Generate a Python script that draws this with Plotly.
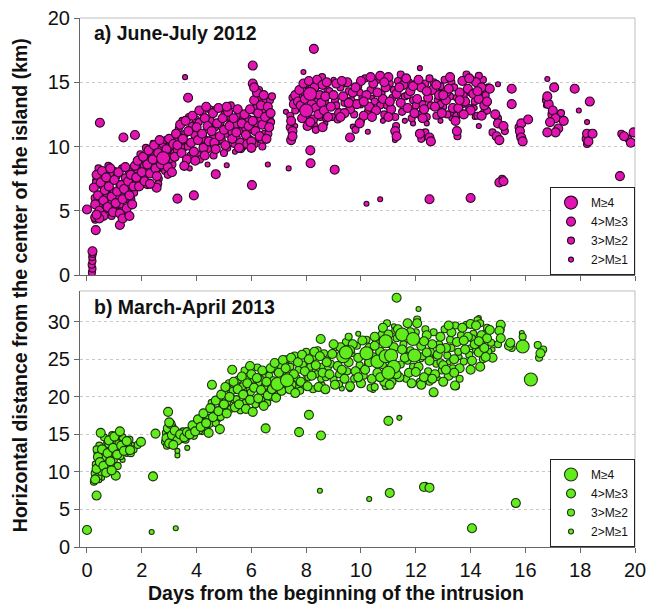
import plotly.graph_objects as go

# ---------------- DATA (days, km) ----------------
# Panel a) June-July 2012
A_M4 = [(2.78, 9.1), (8.14, 14.1), (8.0, 12.8)]
A_M3 = [
    (0.0, 5.1), (0.2, 1.85), (0.32, 3.5), (0.3, 4.5), (0.47, 11.85), (1.33, 10.7), (1.75, 10.9), (1.2, 3.9),
    (3.3, 5.95), (3.9, 6.2), (3.69, 13.8), (4.7, 7.85), (6.02, 7.0), (6.05, 16.3), (6.05, 14.9), (8.16, 8.7),
    (8.15, 9.7), (8.28, 17.6), (9.04, 8.2), (12.5, 5.9), (14.0, 6.0), (15.05, 7.2), (15.2, 7.3), (19.45, 7.7),
    (15.5, 14.5), (17.05, 14.6), (17.8, 14.5), (18.35, 13.5), (9.6, 10.7), (2.54, 6.8),
    # cloud 0.2-1.8
    (0.25, 6.8), (0.3, 5.5), (0.35, 7.8), (0.4, 6.2), (0.45, 5.0), (0.5, 7.2), (0.55, 8.1), (0.6, 5.8),
    (0.65, 6.6), (0.7, 7.6), (0.75, 5.3), (0.8, 6.9), (0.85, 8.3), (0.9, 6.1), (0.95, 4.9), (1.0, 7.4),
    (1.05, 5.6), (1.1, 6.5), (1.15, 8.0), (1.2, 4.8), (1.25, 7.0), (1.3, 5.9), (1.35, 6.7), (1.4, 8.4),
    (1.45, 5.2), (1.5, 7.3), (1.55, 6.2), (1.6, 7.8), (1.65, 5.5), (1.7, 6.9), (1.75, 8.5), (0.6, 4.6),
    (1.3, 4.4), (0.45, 4.4), (0.35, 4.7), (1.55, 4.6),
    # cloud 1.8-3.2
    (1.8, 7.6), (1.85, 8.9), (1.9, 6.9), (2.0, 8.0), (2.05, 9.2), (2.1, 7.3), (2.2, 8.6), (2.25, 9.7),
    (2.3, 7.9), (2.4, 9.0), (2.45, 10.1), (2.5, 8.3), (2.6, 9.5), (2.65, 10.5), (2.7, 8.6), (2.9, 9.8),
    (2.95, 8.4), (3.0, 10.6), (3.05, 9.1), (3.1, 8.0), (3.15, 10.2), (2.3, 7.1), (2.55, 7.7),
    # cloud 3.2-4.5
    (3.2, 9.2), (3.25, 11.0), (3.3, 10.1), (3.4, 11.7), (3.45, 9.5), (3.5, 10.6), (3.6, 12.0), (3.65, 9.0),
    (3.7, 11.2), (3.8, 10.3), (3.85, 12.4), (3.9, 9.6), (4.0, 11.5), (4.05, 10.5), (4.1, 12.8), (4.2, 11.0),
    (4.25, 9.9), (4.3, 12.2), (4.35, 13.1), (4.4, 11.6), (4.45, 10.4), (3.55, 8.5), (3.95, 8.9), (4.3, 9.3),
    # cloud 4.5-6.0
    (4.55, 11.2), (4.6, 12.6), (4.65, 10.3), (4.75, 11.8), (4.8, 13.0), (4.85, 10.8), (4.95, 12.2), (5.0, 11.3),
    (5.05, 10.1), (5.15, 12.7), (5.2, 11.6), (5.3, 10.6), (5.35, 12.2), (5.45, 11.1), (5.5, 12.9), (5.6, 10.3),
    (5.65, 11.8), (5.75, 12.5), (5.8, 10.9), (5.9, 11.6), (5.95, 12.9), (5.1, 13.1), (4.7, 9.8), (5.55, 9.9),
    (5.85, 10.2),
    # cloud 6.0-6.75
    (6.0, 10.4), (6.05, 12.0), (6.1, 13.6), (6.15, 11.2), (6.2, 14.2), (6.25, 12.6), (6.3, 10.8), (6.35, 13.2),
    (6.4, 11.7), (6.45, 14.0), (6.5, 12.3), (6.55, 10.6), (6.6, 13.1), (6.65, 11.5), (6.7, 12.6), (6.1, 14.6),
    (6.0, 9.9),
    # 7.2-8.8
    (7.45, 10.5), (7.5, 11.2), (7.45, 12.0), (7.55, 13.3), (7.6, 14.0), (7.7, 13.5), (7.5, 10.8),
    (7.75, 14.4), (7.8, 13.2), (7.85, 12.2), (7.9, 14.9), (7.95, 13.7), (8.05, 11.6), (8.1, 15.1), (8.2, 13.3),
    (8.25, 12.1), (8.3, 14.6), (8.35, 13.0), (8.4, 15.2), (8.45, 12.5), (8.5, 14.0), (8.55, 13.4), (8.6, 14.8),
    (8.65, 12.8), (8.7, 13.9), (8.75, 15.0), (8.8, 12.3), (8.6, 11.5), (8.15, 11.9),
    # 8.8-14.5
    (8.9, 13.1), (9.1, 14.9), (9.2, 12.6), (9.35, 13.9), (9.5, 15.0), (9.6, 12.9), (9.7, 14.2), (9.85, 13.3),
    (10.0, 15.1), (10.1, 12.4), (10.2, 14.0), (10.3, 13.1), (10.45, 14.9), (10.55, 12.8), (10.7, 15.5), (10.8, 13.7),
    (10.9, 14.6), (11.0, 15.4), (11.1, 12.9), (11.25, 11.2), (11.3, 14.1), (11.45, 13.4), (11.55, 14.8), (11.7, 13.0),
    (11.8, 14.3), (11.95, 12.6), (12.05, 13.7), (12.2, 14.6), (12.3, 12.9), (12.45, 13.8), (12.6, 14.4), (12.7, 13.1),
    (12.85, 14.0), (12.95, 12.6), (13.1, 13.6), (13.2, 14.5), (13.35, 13.0), (13.45, 12.0), (13.5, 11.2), (13.55, 13.0),
    (13.6, 14.2), (13.7, 15.1), (13.8, 13.5), (13.9, 14.5), (14.0, 12.8), (14.1, 14.1), (14.2, 15.0), (14.3, 13.7),
    (14.4, 14.6), (14.5, 13.2), (12.15, 11.0), (12.5, 10.7), (12.55, 10.4), (11.3, 10.8), (9.95, 11.8), (9.4, 12.6),
    (9.0, 14.0), (9.3, 15.1), (9.55, 13.4), (9.8, 14.6), (10.1, 13.5), (10.35, 15.4), (10.6, 14.2), (10.85, 15.0),
    (11.05, 13.5), (11.4, 14.6), (11.65, 15.3), (11.9, 14.7), (12.1, 15.2), (12.4, 14.3), (12.75, 14.8), (13.0, 14.0),
    (13.25, 15.4), (13.6, 13.6), (13.95, 15.3), (14.25, 14.3), (12.25, 12.2), (11.0, 12.3), (10.4, 12.3), (9.25, 12.3),
    (14.4, 12.4), (13.75, 12.5),
    # tail
    (15.5, 13.3), (14.9, 12.5), (15.0, 11.8), (15.2, 11.6), (14.95, 10.8), (15.05, 10.5), (15.85, 11.8), (16.1, 12.1),
    (15.8, 11.2), (15.85, 10.7), (15.9, 10.4), (16.85, 13.3), (16.8, 13.9), (17.0, 12.8), (17.1, 12.2), (16.9, 11.9),
    (17.2, 11.4), (17.1, 11.1), (16.8, 11.1), (17.4, 12.0), (18.25, 11.0), (18.3, 10.4), (18.45, 11.0), (19.6, 10.8),
    (19.85, 10.3), (19.95, 11.1), (14.7, 14.5), (14.6, 13.5),
]
A_M2 = [
    (0.18, 0.2), (0.2, 0.5), (0.17, 0.8), (0.2, 1.1), (0.19, 1.4), (0.21, 1.65), (0.3, 4.3),
    (0.28, 6.0), (0.33, 7.2), (0.42, 8.3), (0.5, 5.6), (0.58, 6.9), (0.62, 7.9), (0.68, 5.1), (0.72, 6.3),
    (0.78, 8.5), (0.82, 7.2), (0.88, 5.6), (0.92, 7.9), (0.98, 6.5), (1.02, 5.2), (1.08, 7.7), (1.12, 6.0),
    (1.18, 7.1), (1.22, 5.5), (1.28, 8.3), (1.32, 6.3), (1.38, 7.6), (1.42, 5.9), (1.48, 6.6), (1.52, 8.1),
    (1.58, 7.0), (1.62, 5.9), (1.68, 7.4), (1.72, 6.4), (1.78, 7.9), (0.5, 4.7), (0.9, 4.6), (1.15, 4.9),
    (1.82, 8.2), (1.88, 7.2), (1.95, 9.4), (2.02, 7.6), (2.08, 8.5), (2.15, 9.9), (2.18, 7.8), (2.28, 8.9),
    (2.35, 9.4), (2.42, 8.1), (2.48, 9.9), (2.55, 8.9), (2.62, 7.5), (2.68, 9.8), (2.75, 10.2), (2.85, 8.1),
    (2.88, 10.5), (2.98, 9.5), (3.08, 10.0), (3.12, 8.6), (3.18, 9.5), (2.2, 7.0), (2.6, 7.1), (2.95, 7.8),
    (3.22, 10.4), (3.28, 9.7), (3.35, 11.4), (3.42, 10.2), (3.48, 12.0), (3.52, 9.9), (3.58, 11.0), (3.68, 10.0),
    (3.72, 12.3), (3.78, 9.3), (3.82, 11.6), (3.92, 10.9), (3.98, 12.1), (4.02, 9.4), (4.08, 11.9), (4.15, 10.8),
    (4.22, 12.6), (4.28, 10.6), (4.38, 12.0), (4.42, 9.8), (4.48, 12.9), (4.12, 9.0), (3.62, 8.8),
    (4.52, 12.0), (4.58, 10.7), (4.68, 11.5), (4.72, 12.9), (4.78, 10.4), (4.88, 11.9), (4.92, 10.5), (5.02, 12.5),
    (5.08, 11.0), (5.12, 9.9), (5.22, 12.3), (5.28, 11.1), (5.38, 10.2), (5.42, 11.7), (5.52, 12.4), (5.58, 11.2),
    (5.62, 9.8), (5.7, 12.2), (5.78, 11.4), (5.88, 12.2), (5.92, 10.6), (5.25, 13.2), (4.62, 9.3), (5.0, 9.5),
    (6.02, 11.3), (6.08, 12.8), (6.12, 10.2), (6.18, 13.0), (6.22, 11.8), (6.28, 14.4), (6.32, 12.2), (6.38, 10.5),
    (6.42, 12.9), (6.48, 11.0), (6.52, 13.6), (6.58, 12.0), (6.62, 11.0), (6.68, 13.6), (6.72, 11.9), (6.75, 13.9),
    (6.4, 10.0),
    (7.4, 11.5), (7.42, 12.4), (7.5, 13.8), (7.6, 12.8),
    (7.78, 13.8), (7.88, 12.9), (7.98, 14.8), (8.02, 12.2), (8.22, 14.2), (8.28, 11.7), (8.38, 14.0), (8.42, 13.5),
    (8.52, 12.3), (8.58, 15.4), (8.68, 13.5), (8.72, 12.2), (8.78, 14.4), (8.35, 11.3),
    (8.85, 14.3), (8.95, 12.3), (9.05, 13.6), (9.15, 12.1), (9.25, 14.6), (9.4, 13.4), (9.55, 14.3), (9.65, 13.6),
    (9.75, 12.5), (9.9, 14.7), (10.05, 13.8), (10.15, 15.3), (10.25, 12.7), (10.35, 14.4), (10.5, 13.5), (10.6, 15.2),
    (10.75, 14.1), (10.85, 12.5), (10.95, 13.2), (11.05, 14.9), (11.15, 13.8), (11.25, 12.3), (11.35, 15.1), (11.5, 12.7),
    (11.6, 13.9), (11.75, 15.0), (11.85, 12.2), (11.9, 13.6), (12.0, 14.9), (12.1, 12.5), (12.25, 13.3), (12.35, 14.9),
    (12.4, 12.3), (12.55, 13.2), (12.65, 15.0), (12.75, 12.4), (12.8, 13.6), (12.9, 14.7), (13.0, 13.1), (13.05, 15.2),
    (13.15, 12.5), (13.25, 13.9), (13.3, 15.0), (13.4, 12.6), (13.5, 13.8), (13.52, 10.8), (13.48, 12.4), (13.65, 12.6),
    (13.75, 14.0), (13.85, 15.6), (13.95, 13.0), (14.05, 15.2), (14.15, 13.5), (14.25, 12.4), (14.35, 14.3), (14.45, 15.2),
    (14.55, 14.0), (14.65, 14.6), (11.28, 11.6), (12.2, 10.6), (12.35, 11.1), (9.8, 11.3), (10.0, 12.0),
    (9.1, 13.2), (9.45, 14.9), (9.95, 14.2), (10.4, 13.0), (10.7, 13.2), (11.2, 14.4), (11.45, 15.6), (11.7, 14.0),
    (12.0, 13.2), (12.5, 15.3), (12.9, 13.3), (13.15, 14.2), (13.4, 14.6), (13.7, 13.3), (14.0, 14.2), (14.3, 15.5),
    (14.5, 12.7),
    (16.75, 13.6), (16.95, 12.5), (17.3, 12.6), (18.2, 10.6), (18.25, 10.2), (19.5, 11.0), (19.75, 10.6), (15.8, 10.9),
    (15.75, 11.5), (15.0, 12.2), (14.8, 11.1), (15.25, 11.2), (15.15, 7.5), (14.6, 12.8),
]
A_M1 = [
    (0.3, 7.4), (0.55, 6.4), (0.75, 7.3), (0.95, 5.8), (1.15, 6.8), (1.35, 5.0), (1.6, 6.5), (0.8, 5.1), (1.0, 8.2),
    (1.9, 8.5), (2.15, 8.1), (2.35, 8.6), (2.6, 8.2), (2.8, 9.6), (3.0, 8.9), (2.4, 10.3),
    (3.3, 10.9), (3.6, 10.4), (3.9, 11.8), (4.2, 10.1), (4.4, 8.6), (3.75, 8.3),
    (4.6, 11.9), (4.9, 10.9), (5.2, 12.0), (5.5, 10.7), (5.8, 11.9), (5.4, 9.6), (5.7, 9.9),
    (6.1, 11.7), (6.3, 13.8), (6.5, 11.6), (6.7, 12.2), (6.2, 10.5),
    (7.6, 11.6), (8.0, 11.5), (8.45, 14.7), (8.7, 11.8),
    (9.0, 15.2), (9.6, 10.75), (9.7, 11.55), (10.25, 11.15), (10.4, 13.8), (10.8, 12.0), (11.24, 10.5), (11.6, 12.0),
    (12.15, 16.1), (12.4, 11.8), (12.9, 12.0), (13.3, 12.2), (14.1, 13.1), (11.9, 11.8), (10.0, 13.2), (13.0, 14.4),
    (3.58, 15.4), (5.1, 8.55), (6.6, 8.6), (7.36, 8.3), (7.26, 12.7), (7.9, 15.8), (10.2, 5.55), (10.7, 5.9),
    (15.0, 14.85), (16.8, 15.25), (17.95, 12.8), (18.25, 11.9), (14.15, 13.0), (14.15, 12.3), (14.3, 11.6), (16.75, 13.2),
]

# Panel b) March-April 2013
B_M4 = [
    (6.95, 21.7), (7.3, 22.2), (9.35, 25.4), (9.45, 25.9), (10.2, 25.8), (10.6, 24.7), (10.9, 27.4), (10.9, 25.4),
    (11.1, 25.5), (11.2, 24.0), (11.0, 23.2), (11.5, 28.3), (11.9, 27.7), (11.95, 25.5), (15.9, 26.7), (16.2, 22.3),
]
B_M3 = [
    (0.0, 2.27), (0.35, 6.85), (2.41, 9.4), (2.5, 15.1), (1.97, 14.0), (2.96, 18.0), (4.56, 21.6), (5.3, 23.6),
    (5.95, 24.1), (6.52, 15.8), (7.74, 15.3), (8.1, 17.6), (8.54, 14.85), (8.53, 27.7), (11.3, 33.2), (11.0, 16.8),
    (11.05, 7.2), (12.3, 8.0), (12.5, 7.9), (14.05, 2.5), (15.65, 5.85), (12.65, 20.6), (13.43, 21.5), (12.2, 21.6),
    (15.1, 29.6), (16.55, 25.8),
    (0.3, 9.0), (0.35, 10.4), (0.4, 12.0), (0.47, 11.3), (0.5, 15.2), (0.55, 13.0), (0.6, 10.8), (0.7, 9.9),
    (0.75, 12.5), (0.8, 14.2), (0.85, 11.4), (0.95, 13.2), (1.0, 14.7), (1.05, 9.5), (1.1, 12.3), (1.2, 15.4),
    (1.25, 13.5), (1.35, 12.8), (1.45, 14.1), (1.57, 12.9), (0.9, 10.2),
    (2.9, 14.5), (2.95, 15.8), (3.0, 13.8), (3.05, 16.4), (3.1, 14.9), (3.2, 15.5), (3.3, 14.2), (3.4, 15.0),
    (3.55, 14.6), (3.65, 15.3), (3.0, 16.6), (3.15, 13.6),
    (3.75, 15.0), (3.85, 16.2), (3.95, 15.4), (4.05, 17.0), (4.15, 16.0), (4.25, 17.8), (4.35, 16.5), (4.44, 15.2),
    (4.5, 18.5), (4.6, 17.3), (4.7, 19.5), (4.8, 18.1), (4.85, 15.7), (4.9, 20.3), (5.0, 19.0), (5.05, 21.3),
    (5.1, 17.8), (5.2, 20.0), (5.35, 22.0), (5.4, 18.6),
    (5.5, 21.0), (5.55, 19.0), (5.65, 22.7), (5.7, 20.3), (5.8, 18.4), (5.85, 21.8), (5.95, 19.6), (6.0, 23.0),
    (6.05, 18.0), (6.1, 21.2), (6.2, 22.5), (6.25, 19.8), (6.35, 20.9), (6.4, 23.5), (6.45, 18.8), (6.55, 22.0),
    (6.6, 20.2), (6.7, 23.8), (6.75, 21.0), (6.85, 24.5), (6.9, 19.9), (7.0, 23.2), (7.1, 20.8), (7.15, 24.9),
    (7.25, 23.8), (7.4, 21.0), (7.45, 25.2), (7.55, 23.0), (7.6, 20.5), (7.7, 24.6), (7.8, 22.0), (7.85, 25.6),
    (7.95, 23.4), (8.05, 21.4), (8.1, 25.0), (8.2, 22.8), (8.3, 26.0), (8.35, 24.2), (8.45, 21.3), (8.5, 25.4),
    (8.6, 23.2), (8.7, 21.0), (8.75, 24.6),
    (8.85, 23.0), (8.95, 25.7), (9.05, 21.6), (9.15, 24.1), (9.25, 26.6), (9.4, 22.4), (9.55, 24.6), (9.6, 21.4),
    (9.7, 27.0), (9.8, 23.4), (9.9, 25.2), (10.0, 21.8), (10.05, 27.5), (10.15, 23.6), (10.3, 26.5), (10.4, 22.4),
    (10.5, 28.0), (10.6, 23.2), (10.7, 26.0), (10.8, 29.2), (10.85, 22.0), (11.0, 28.3), (11.05, 21.6), (11.2, 26.6),
    (11.35, 29.0), (11.4, 22.6), (11.6, 25.2), (11.7, 29.8), (11.75, 23.2), (11.85, 21.8), (12.05, 29.8), (12.1, 24.0),
    (12.2, 26.8), (12.3, 22.6), (12.4, 28.2), (12.5, 24.8), (12.6, 27.0), (12.7, 23.0), (12.8, 25.6), (12.9, 28.0),
    (13.0, 24.2), (13.1, 26.5), (13.2, 22.8), (13.3, 28.6), (13.4, 25.0), (13.5, 27.3), (13.6, 23.8), (13.7, 29.2),
    (13.8, 26.3), (13.9, 28.0), (14.0, 29.7), (14.05, 24.8), (14.15, 27.0), (14.2, 29.5), (14.3, 25.9), (14.4, 28.2),
    (14.5, 26.5), (14.6, 27.8), (14.8, 25.2), (14.7, 28.9), (15.05, 28.8), (15.1, 27.8), (15.4, 26.8), (15.45, 27.2),
    (14.35, 24.0), (13.0, 22.0),
    (9.0, 27.0), (9.3, 23.6), (9.6, 26.2), (9.9, 22.6), (10.3, 24.6), (10.5, 26.8), (10.7, 22.6), (11.3, 23.0),
    (11.5, 26.3), (11.8, 28.6), (12.0, 23.3), (12.3, 27.4), (12.6, 22.4), (12.9, 26.4), (13.2, 29.5), (13.4, 23.2),
    (13.75, 27.5), (14.0, 23.6), (14.3, 27.4), (14.55, 25.3), (13.1, 23.6), (12.4, 25.9),
]
B_M2 = [
    (0.25, 8.7), (0.28, 9.8), (0.32, 11.0), (0.38, 12.6), (0.42, 9.4), (0.45, 13.5), (0.52, 10.0), (0.58, 11.9),
    (0.62, 14.6), (0.65, 12.8), (0.72, 11.0), (0.78, 13.7), (0.82, 10.6), (0.88, 12.0), (0.92, 14.9), (0.98, 11.6),
    (1.02, 12.9), (1.08, 14.0), (1.12, 10.8), (1.15, 13.8), (1.22, 12.1), (1.3, 14.6), (1.4, 13.2), (1.5, 13.8),
    (1.6, 12.5), (1.7, 13.0), (1.55, 14.3), (0.35, 13.0), (1.15, 15.1), (1.85, 13.6),
    (2.85, 14.0), (2.88, 15.2), (2.92, 13.5), (2.98, 14.9), (3.02, 15.3), (3.08, 13.9), (3.12, 16.0), (3.18, 14.4),
    (3.25, 15.0), (3.35, 14.8), (3.45, 14.4), (3.5, 15.4), (3.6, 14.3), (3.7, 14.8),
    (3.8, 15.6), (3.9, 14.8), (4.0, 16.5), (4.1, 15.5), (4.2, 16.8), (4.3, 15.9), (4.4, 17.2), (4.48, 16.4),
    (4.55, 19.2), (4.65, 18.2), (4.75, 17.0), (4.82, 19.7), (4.88, 17.3), (4.95, 18.6), (5.02, 20.6), (5.12, 19.3),
    (5.18, 21.8), (5.25, 18.4), (5.32, 20.8), (5.38, 19.6), (5.45, 21.5), (4.12, 16.9), (4.7, 16.5),
    (5.45, 19.7), (5.52, 22.3), (5.6, 18.2), (5.68, 21.4), (5.75, 23.5), (5.78, 19.2), (5.9, 22.4), (5.98, 20.6),
    (6.08, 22.3), (6.15, 19.0), (6.22, 23.9), (6.3, 21.7), (6.38, 19.5), (6.48, 21.4), (6.52, 23.0), (6.58, 19.2),
    (6.65, 22.8), (6.72, 20.0), (6.8, 22.2), (6.88, 23.6), (6.95, 20.3), (7.05, 24.2), (7.12, 22.0), (7.2, 21.0),
    (7.28, 25.0), (7.35, 22.8), (7.42, 24.0), (7.5, 21.6), (7.58, 25.5), (7.65, 22.5), (7.72, 23.6), (7.78, 20.8),
    (7.88, 24.3), (7.92, 21.8), (8.0, 26.0), (8.08, 22.6), (8.15, 24.0), (8.25, 21.0), (8.28, 25.3), (8.38, 23.0),
    (8.42, 26.2), (8.55, 22.4), (8.58, 24.0), (8.65, 25.8), (8.72, 22.6), (8.8, 24.0),
    (8.9, 24.4), (9.0, 22.3), (9.1, 26.6), (9.2, 23.0), (9.3, 25.0), (9.45, 27.3), (9.5, 23.4), (9.65, 25.8),
    (9.75, 22.4), (9.85, 26.8), (9.95, 24.2), (10.1, 22.8), (10.2, 27.6), (10.25, 24.5), (10.35, 21.2), (10.45, 25.4),
    (10.55, 27.2), (10.65, 22.8), (10.75, 28.3), (10.8, 24.2), (10.95, 29.8), (11.05, 27.0), (11.15, 22.0), (11.3, 27.8),
    (11.45, 24.3), (11.55, 27.0), (11.65, 22.4), (11.8, 26.2), (11.9, 24.0), (12.0, 28.6), (12.05, 30.3), (12.15, 22.0),
    (12.25, 25.4), (12.35, 29.0), (12.45, 23.4), (12.55, 26.0), (12.65, 28.6), (12.75, 24.4), (12.85, 27.0), (12.95, 23.5),
    (13.05, 29.0), (13.15, 25.5), (13.25, 27.6), (13.35, 23.8), (13.45, 29.5), (13.55, 26.0), (13.65, 28.2), (13.75, 24.7),
    (13.85, 29.6), (13.95, 25.6), (14.1, 28.4), (14.2, 26.2), (14.25, 30.2), (14.4, 27.0), (14.45, 25.0), (14.55, 28.5),
    (14.65, 26.0), (14.75, 27.2), (14.35, 29.8), (13.47, 21.4), (12.5, 22.0), (10.5, 21.3), (15.1, 29.0), (15.0, 27.0),
    (15.5, 26.5), (16.5, 25.2), (16.65, 26.3), (16.45, 26.9), (15.9, 28.0),
    (9.2, 21.7), (9.55, 28.0), (10.9, 21.4), (11.25, 28.8), (12.9, 24.6), (13.3, 26.5), (13.6, 22.4), (14.05, 27.8),
    (14.6, 29.2), (11.7, 24.8),
]
B_M1 = [
    (2.36, 2.0), (3.24, 2.5), (8.5, 7.5), (10.3, 6.4), (11.4, 17.2), (12.1, 31.7), (12.35, 8.3), (15.87, 28.5),
    (10.44, 20.9), (3.3, 12.2), (3.3, 12.8), (3.66, 13.2),
    (0.3, 10.0), (0.55, 9.2), (0.7, 13.9), (0.9, 12.7), (1.1, 13.4), (1.3, 11.6), (1.45, 12.4), (1.65, 13.6), (0.45, 8.9),
    (2.95, 14.3), (3.2, 14.0), (3.4, 14.2),
    (3.95, 16.0), (4.2, 15.3), (4.45, 16.9), (4.6, 17.9), (4.9, 18.9), (5.15, 18.6), (5.3, 19.9), (4.0, 15.9),
    (5.6, 20.6), (5.9, 21.0), (6.3, 22.6), (6.5, 20.5), (6.8, 21.6), (7.1, 23.0), (7.4, 22.0), (7.7, 21.4),
    (8.0, 22.8), (8.3, 23.6), (8.6, 21.6), (7.3, 24.3), (6.0, 19.5), (8.8, 25.0),
    (9.3, 21.1), (9.6, 21.0), (10.0, 24.0), (10.6, 25.5), (11.1, 23.3), (11.6, 26.2), (12.2, 25.0), (12.7, 25.5),
    (13.2, 24.6), (13.6, 25.3), (14.0, 26.6), (14.3, 30.5), (14.8, 26.3), (12.8, 22.5), (11.2, 29.4), (9.9, 28.4),
]

CLASS_NAMES = ["2>M≥1", "3>M≥2", "4>M≥3", "M≥4"]
X_TICKS = [0, 2, 4, 6, 8, 10, 12, 14, 16, 18, 20]
YA_TICKS = [0, 5, 10, 15, 20]
YB_TICKS = [0, 5, 10, 15, 20, 25, 30]

# ---------------- STYLE ----------------
SIZES = [5, 7, 9, 13]
MAG_FILL, MAG_LINE = "#E313B2", "#2a0824"
GRN_FILL, GRN_LINE = "#62EC1E", "#1c330c"
FONT = "Liberation Sans, Arial, sans-serif"

fig = go.Figure()

def add_panel(classes, xa, ya, fill, line, legend):
    for name, pts, sz in zip(CLASS_NAMES, classes, SIZES):
        fig.add_trace(go.Scatter(
            x=[p[0] for p in pts], y=[p[1] for p in pts], mode="markers", name=name,
            xaxis=xa, yaxis=ya, legend=legend,
            marker=dict(size=sz, color=fill, line=dict(color=line, width=1.1)),
            hoverinfo="skip",
        ))

add_panel([A_M1, A_M2, A_M3, A_M4], "x", "y", MAG_FILL, MAG_LINE, "legend")
add_panel([B_M1, B_M2, B_M3, B_M4], "x2", "y2", GRN_FILL, GRN_LINE, "legend2")

TOP_DOM = [0.514, 1.0]
BOT_DOM = [0.0, 0.484]

axis_common = dict(showline=True, linecolor="#666666", linewidth=1, ticks="outside", ticklen=5,
                   tickcolor="#666666", tickfont=dict(family=FONT, size=20, color="#111111"), zeroline=False,
                   automargin=False)

legend_common = dict(bgcolor="white", bordercolor="#222222", borderwidth=1,
                     font=dict(family=FONT, size=12, color="#111111"), traceorder="reversed",
                     xanchor="right", yanchor="bottom", x=1.0, itemwidth=30, tracegroupgap=0)

fig.update_layout(
    width=648, height=608, margin=dict(l=80, r=13, t=18, b=61, autoexpand=False),
    paper_bgcolor="white", plot_bgcolor="white", showlegend=True,
    xaxis=dict(domain=[0, 1], range=[-0.255, 20], tickvals=X_TICKS, showticklabels=False,
               anchor="y", showgrid=False, **axis_common),
    yaxis=dict(domain=TOP_DOM, range=[0, 20], tickvals=YA_TICKS, anchor="x", showgrid=True,
               gridcolor="#c8c8c8", griddash="dot", gridwidth=1, **axis_common),
    xaxis2=dict(domain=[0, 1], range=[-0.255, 20], tickvals=X_TICKS, anchor="y2", showgrid=False,
                **axis_common),
    yaxis2=dict(domain=BOT_DOM, range=[0, 34.1], tickvals=YB_TICKS, anchor="x2", showgrid=True,
                gridcolor="#c8c8c8", griddash="dot", gridwidth=1, **axis_common),
    legend=dict(y=TOP_DOM[0], **legend_common),
    legend2=dict(y=BOT_DOM[0], **legend_common),
)

# light-grey top and right frame lines
for dom in (TOP_DOM, BOT_DOM):
    fig.add_shape(type="line", xref="paper", yref="paper", x0=0, x1=1, y0=dom[1], y1=dom[1],
                  line=dict(color="#bdbdbd", width=1), layer="below")
    fig.add_shape(type="line", xref="paper", yref="paper", x0=1, x1=1, y0=dom[0], y1=dom[1],
                  line=dict(color="#bdbdbd", width=1), layer="below")

title_font = dict(family=FONT, size=19.5, color="#111111")
fig.add_annotation(text="<b>a) June-July 2012</b>", xref="paper", yref="paper", x=0.0216, y=0.9716,
                   xanchor="left", yanchor="middle", showarrow=False, font=title_font)
fig.add_annotation(text="<b>b) March-April 2013</b>", xref="paper", yref="paper", x=0.0216, y=0.4537,
                   xanchor="left", yanchor="middle", showarrow=False, font=title_font)
fig.add_annotation(text="<b>Days from the beginning of the intrusion</b>", xref="paper", yref="paper",
                   x=0.461, y=-0.087, xanchor="center", yanchor="middle", showarrow=False, font=title_font)
fig.add_annotation(text="<b>Horizontal distance from the center of the island (km)</b>", xref="paper",
                   yref="paper", x=-0.108, y=0.495, xanchor="center", yanchor="middle", textangle=-90,
                   showarrow=False, font=title_font)

fig.write_html("out.html")
